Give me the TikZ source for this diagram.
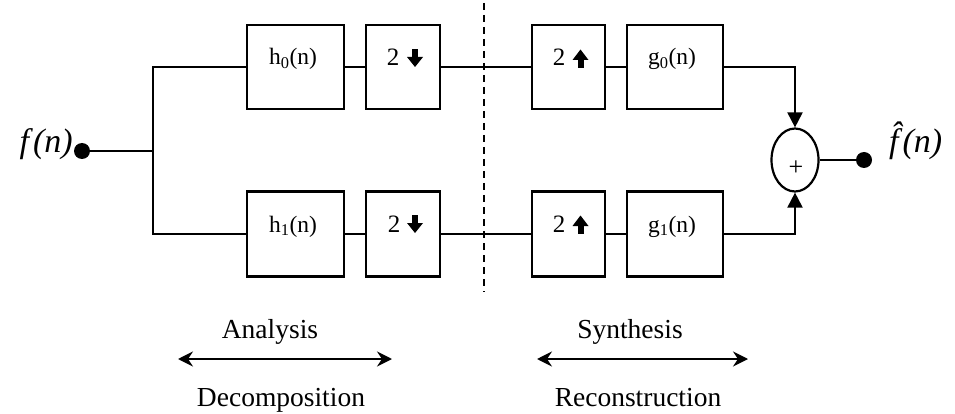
\documentclass[tikz,border=0pt]{standalone}
\usepackage{fontspec}
\setmainfont{Liberation Serif}
\usetikzlibrary{arrows.meta,shapes.geometric}
\begin{document}
\begin{tikzpicture}[x=1pt,y=-1pt,
  blk/.style={draw,line width=2.4pt,inner sep=0pt},
  wire/.style={line width=2pt},
  lbl/.style={font=\fontsize{23.5}{26}\selectfont,anchor=base,inner sep=0pt},
  twolbl/.style={font=\fontsize{25}{28}\selectfont,anchor=base,inner sep=0pt},
  captxt/.style={font=\fontsize{27.5}{30}\selectfont,anchor=base,inner sep=0pt},
  sig/.style={font=\fontsize{34}{36}\selectfont\itshape,inner sep=0pt},
  dotn/.style={circle,fill,minimum size=16pt,inner sep=0pt},
  sumarr/.style={wire,-{Triangle[width=15pt,length=15pt]}},
  dbl/.style={line width=2.2pt,{Stealth[length=15pt,width=15pt,inset=5pt]}-{Stealth[length=15pt,width=15pt,inset=5pt]}},
  pics/dnarr/.style={code={\fill (-3,-18) rectangle (3,-9);
      \fill (-8,-10) -- (8,-10) -- (0,0) -- cycle;}},
  pics/uparr/.style={code={\fill (-3,0) rectangle (3,-9);
      \fill (-8,-8) -- (8,-8) -- (0,-18.5) -- cycle;}}]
\useasboundingbox (0,0) rectangle (955,414);

% top row boxes
\node[blk,minimum width=97pt,minimum height=84pt] (h0) at (295.5,67) {};
\node[blk,minimum width=74pt,minimum height=84pt] (d0) at (403,67) {};
\node[blk,minimum width=73pt,minimum height=84pt] (u0) at (568.5,67) {};
\node[blk,minimum width=96pt,minimum height=84pt] (g0) at (675,67) {};
% bottom row boxes
\node[blk,minimum width=97pt,minimum height=85pt] (h1) at (295.5,234) {};
\node[blk,minimum width=74pt,minimum height=85pt] (d1) at (403,234) {};
\node[blk,minimum width=73pt,minimum height=85pt] (u1) at (568.5,234) {};
\node[blk,minimum width=96pt,minimum height=85pt] (g1) at (675,234) {};

% box labels
\node[lbl] (h0t) at (293,65) {h\textsubscript{0}(n)};
\node[lbl] (g0t) at (672,65) {g\textsubscript{0}(n)};
\node[lbl] (h1t) at (293,232) {h\textsubscript{1}(n)};
\node[lbl] (g1t) at (672,232) {g\textsubscript{1}(n)};
\node[twolbl] (d0t) at (393,66) {2};
\node[twolbl] (u0t) at (559,66) {2};
\node[twolbl] (d1t) at (394,232) {2};
\node[twolbl] (u1t) at (559,232) {2};
\pic at (415,67) {dnarr};
\pic at (415,233) {dnarr};
\pic at (580.5,68) {uparr};
\pic at (580.5,234) {uparr};

% summation
\node[draw,ellipse,line width=2.2pt,minimum width=47pt,minimum height=63pt,inner sep=0pt] (sum) at (795,160) {};
\node[font=\fontsize{26}{28}\selectfont,inner sep=0pt] (plus) at (796,168) {+};

% input / output
\node[dotn] (in) at (82,151) {};
\node[dotn] (out) at (864,160) {};
\node[sig,anchor=base east] (fin) at (73,153) {f\kern4pt(n)};
\node[sig,anchor=base west] (fout) at (889,153) {\^{f}\kern4pt(n)};

\coordinate (j0) at (153,67);
\coordinate (jm) at (153,151);
\coordinate (j1) at (153,234);

% wires
\draw[wire] (in) -- (jm);
\draw[wire] (h0) -- (j0) -- (j1) -- (h1);
\draw[wire] (h0) -- (d0);
\draw[wire] (d0) -- (u0);
\draw[wire] (u0) -- (g0);
\draw[wire] (h1) -- (d1);
\draw[wire] (d1) -- (u1);
\draw[wire] (u1) -- (g1);
\draw[sumarr] (g0) -| (sum);
\draw[sumarr] (g1) -| (sum);
\draw[wire] (sum) -- (out);

% dashed divider
\coordinate (dt) at (484,3);
\coordinate (db) at (484,292);
\draw[line width=2.4pt,dash pattern=on 7pt off 5pt] (dt) -- (db);

% bottom captions
\node[captxt] (ana) at (270,338) {Analysis};
\node[captxt] (dec) at (281,406) {Decomposition};
\node[captxt] (syn) at (630,338) {Synthesis};
\node[captxt] (rec) at (638,406) {Reconstruction};
\coordinate (al) at (178,359);
\coordinate (ar) at (392,359);
\coordinate (sl) at (537,359);
\coordinate (sr) at (748,359);
\draw[dbl] (al) -- (ar);
\draw[dbl] (sl) -- (sr);
\end{tikzpicture}
\end{document}
